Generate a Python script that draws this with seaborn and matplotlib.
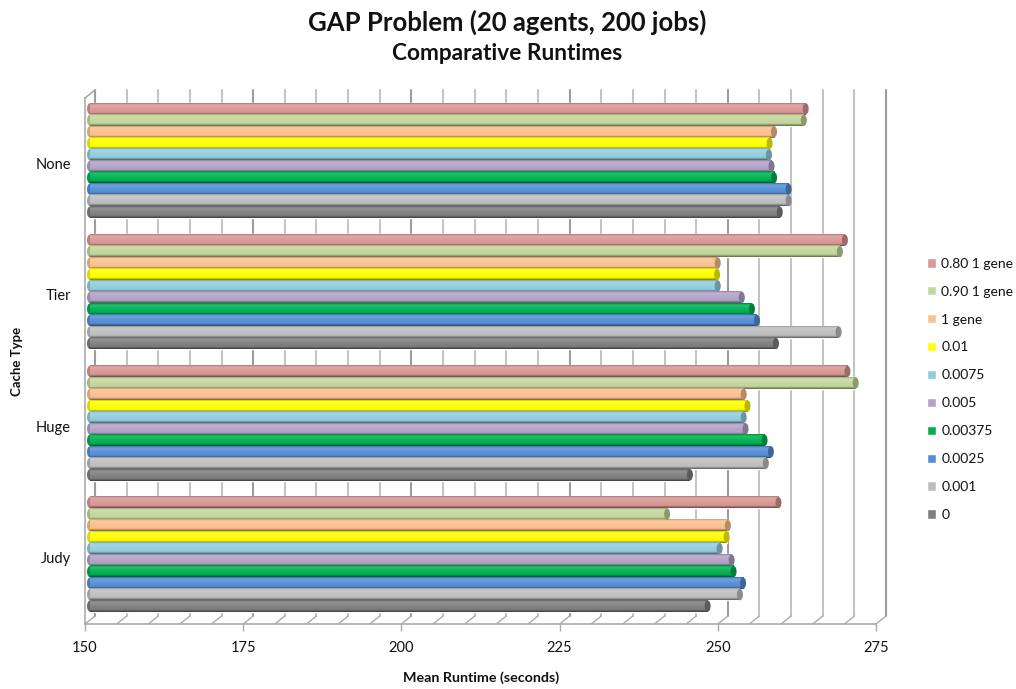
#!/usr/bin/env python
"""
GAP problem comparative runtimes, drawn as a fake 3D cylinder bar chart.
"""
# Third-party
import matplotlib.pyplot as plt
import numpy as np
import pandas as pd
import seaborn as sns
from matplotlib.colors import to_rgb
from matplotlib.patches import Ellipse
from matplotlib.transforms import Affine2D

CACHE_TYPES = ["None", "Tier", "Huge", "Judy"]
RATES = [
    "0.80 1 gene",
    "0.90 1 gene",
    "1 gene",
    "0.01",
    "0.0075",
    "0.005",
    "0.00375",
    "0.0025",
    "0.001",
    "0",
]
COLORS = [
    "#D99694",
    "#C3D69B",
    "#FAC090",
    "#FFFF00",
    "#93CDDD",
    "#B3A2C7",
    "#00B050",
    "#558ED5",
    "#BFBFBF",
    "#7F7F7F",
]

# Same order as RATES
RUNTIME_NONE = [263.1, 262.8, 258.1, 257.4, 257.3, 257.7, 258.1, 260.4, 260.4, 259.0]
RUNTIME_TIER = [269.3, 268.5, 249.2, 249.1, 249.2, 253.0, 254.6, 255.4, 268.3, 258.4]
RUNTIME_HUGE = [269.7, 271.0, 253.3, 253.9, 253.3, 253.6, 256.6, 257.6, 256.8, 244.8]
RUNTIME_JUDY = [258.8, 241.2, 250.8, 250.6, 249.5, 251.4, 251.7, 253.2, 252.7, 247.6]

TICKS = [150, 175, 200, 225, 250, 275]
GRID_STEP = 5
LINE_GREY = "#ABABAB"
TEXT_COLOR = "#111111"

# Figure size in pixels and the front plane of the plot box
FIG_W, FIG_H = 1016, 689
LEFT, RIGHT, TOP, BOTTOM = 85, 876, 98, 624
DEPTH_X, DEPTH_Y = 10, 8


def shade(color, stops, factors):
    """
    Vertical cylinder shading for one bar: factors under 1 go darker, over 1
    blend towards white.
    """
    pos = np.linspace(0, 1, 48)
    amount = np.interp(pos, stops, factors)
    base = np.array(to_rgb(color))
    rows = []
    for a in amount:
        if a <= 1:
            rows.append(base * a)
        else:
            rows.append(base + (1 - base) * (a - 1))
    return np.array(rows)[:, None, :]


def draw_walls(ax):
    """
    Back wall gridlines, floor diagonals and the left wall corner.
    """
    xmin, xmax = ax.get_xlim()
    ybottom, ytop = ax.get_ylim()
    dx = DEPTH_X * (xmax - xmin) / (RIGHT - LEFT)
    dy = DEPTH_Y * (ybottom - ytop) / (BOTTOM - TOP)

    for value in np.arange(TICKS[0], TICKS[-1] + 1, GRID_STEP):
        major = value % 25 == 0
        color = "#9C9C9C" if major else "#C4C4C4"
        ax.plot(
            [value + dx, value + dx],
            [ybottom - dy, ytop - dy],
            color=color,
            lw=1.5,
            clip_on=False,
            zorder=1,
        )
        ax.plot(
            [value, value + dx],
            [ybottom, ybottom - dy],
            color=LINE_GREY,
            lw=1,
            clip_on=False,
            zorder=1,
        )
    ax.plot(
        [xmin, xmin + dx],
        [ytop, ytop - dy],
        color=LINE_GREY,
        lw=1.2,
        clip_on=False,
        zorder=1,
    )


def draw_cylinders(ax):
    """
    Turn the flat seaborn bars into shaded cylinders with rounded ends.
    """
    xlim, ylim = ax.get_xlim(), ax.get_ylim()
    shift_px = DEPTH_X / 2
    shifted = ax.transData + Affine2D().translate(shift_px, 0)
    cap_w = 6 * (xlim[1] - xlim[0]) / (RIGHT - LEFT)

    for container in ax.containers:
        for patch in container:
            value = patch.get_width()
            y0, height = patch.get_y(), patch.get_height()
            color = patch.get_facecolor()[:3]
            patch.set_x(TICKS[0])
            patch.set_width(value - TICKS[0])
            patch.set_transform(shifted)
            patch.set_clip_on(False)
            patch.set_zorder(2)

            body = shade(
                color,
                [0, 0.06, 0.2, 0.5, 0.8, 0.9, 1],
                [0.7, 1.0, 1.16, 1.04, 0.98, 0.72, 0.48],
            )
            image = ax.imshow(
                body,
                extent=(TICKS[0], value, y0 + height, y0),
                origin="upper",
                aspect="auto",
                interpolation="bilinear",
                zorder=3,
            )
            image.set_transform(shifted)
            image.set_clip_on(False)

            # Left end, then right end with a darker rim
            for x, face, z in [
                (TICKS[0], tuple(np.array(color) * 0.85), 2.5),
                (value, tuple(np.array(color) * 0.72), 4),
            ]:
                ax.add_patch(
                    Ellipse(
                        (x, y0 + height / 2),
                        cap_w,
                        height * 0.98,
                        transform=shifted,
                        facecolor=face,
                        edgecolor="none",
                        clip_on=False,
                        zorder=z,
                    )
                )
    ax.set_xlim(xlim)
    ax.set_ylim(ylim)


def main():
    sns.set_theme(style="white")
    plt.rcParams["font.family"] = ["Lato", "DejaVu Sans"]
    plt.rcParams["text.color"] = TEXT_COLOR
    plt.rcParams["xtick.labelcolor"] = TEXT_COLOR
    plt.rcParams["ytick.labelcolor"] = TEXT_COLOR

    data = pd.DataFrame(
        {
            "cache": np.repeat(CACHE_TYPES, len(RATES)),
            "rate": RATES * len(CACHE_TYPES),
            "runtime": RUNTIME_NONE + RUNTIME_TIER + RUNTIME_HUGE + RUNTIME_JUDY,
        }
    )

    fig = plt.figure(figsize=(FIG_W / 100, FIG_H / 100), dpi=100)
    ax = fig.add_axes(
        [
            LEFT / FIG_W,
            1 - BOTTOM / FIG_H,
            (RIGHT - LEFT) / FIG_W,
            (BOTTOM - TOP) / FIG_H,
        ]
    )

    sns.barplot(
        data=data,
        y="cache",
        x="runtime",
        hue="rate",
        order=CACHE_TYPES,
        hue_order=RATES,
        palette=COLORS,
        saturation=1,
        width=0.875,
        ax=ax,
    )

    ax.set_xlim(TICKS[0], TICKS[-1])
    # 131.3 px between groups, first group centred at y=160.5 px
    ax.set_ylim((BOTTOM - 160.5) / 131.3, (TOP - 160.5) / 131.3)

    draw_walls(ax)
    draw_cylinders(ax)

    sns.despine(ax=ax, top=True, right=True)
    for side in ["left", "bottom"]:
        ax.spines[side].set_color(LINE_GREY)
        ax.spines[side].set_linewidth(1.2)
    ax.set_xticks(TICKS)
    ax.tick_params(
        axis="x",
        length=5,
        width=1,
        color=LINE_GREY,
        pad=7,
        labelsize=10.5,
        bottom=True,
    )
    ax.tick_params(axis="y", length=0, pad=10, labelsize=10.5)
    for label in ax.get_yticklabels():
        label.set_transform(label.get_transform() + Affine2D().translate(0, -3))

    ax.set_xlabel("")
    ax.set_ylabel("")
    fig.text(
        481 / FIG_W,
        1 - 678 / FIG_H,
        "Mean Runtime (seconds)",
        ha="center",
        va="center",
        fontsize=10.3,
        fontweight="bold",
    )
    fig.text(
        17 / FIG_W,
        1 - 361 / FIG_H,
        "Cache Type",
        ha="center",
        va="center",
        rotation=90,
        fontsize=9.5,
        fontweight="bold",
    )
    fig.text(
        507 / FIG_W,
        1 - 22 / FIG_H,
        "GAP Problem (20 agents, 200 jobs)",
        ha="center",
        va="center",
        fontsize=18.5,
        fontweight="bold",
    )
    fig.text(
        507 / FIG_W,
        1 - 54 / FIG_H,
        "Comparative Runtimes",
        ha="center",
        va="center",
        fontsize=16.3,
        fontweight="bold",
    )

    sns.move_legend(
        ax,
        "upper left",
        bbox_to_anchor=(924 / FIG_W, 1 - 255 / FIG_H),
        bbox_transform=fig.transFigure,
        title=None,
        frameon=False,
        fontsize=10,
        labelspacing=1.145,
        handlelength=0.65,
        handleheight=0.65,
        handletextpad=0.4,
        borderpad=0.2,
        borderaxespad=0,
    )

    fig.savefig("out.png", dpi=100)


if __name__ == "__main__":
    main()
